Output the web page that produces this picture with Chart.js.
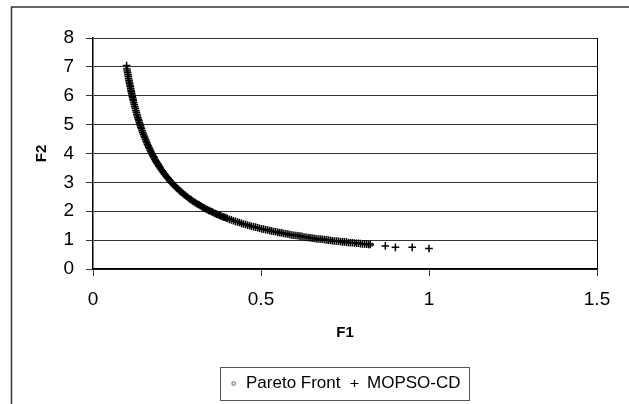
<!DOCTYPE html>
<html>
<head>
<meta charset="utf-8">
<script src="https://cdn.jsdelivr.net/npm/chart.js@4.4.1/dist/chart.umd.min.js"></script>
<style>
  html, body { margin: 0; padding: 0; background: #fff; }
  #wrap { width: 629px; height: 404px; position: relative; }
</style>
</head>
<body>
<div id="wrap"><canvas id="myChart"></canvas></div>
<script>
// values
const paretoF1 = [0.100,0.105,0.110,0.116,0.122,0.129,0.136,0.144,0.153,0.162,0.172,0.183,0.195,0.208,0.222,0.237,0.253,0.270,0.288,0.307,0.327,0.348,0.370,0.393,0.417,0.442,0.468,0.495,0.523,0.552,0.582,0.613,0.645,0.678,0.712,0.747,0.783,0.820,0.830];
const paretoF2 = [7.00,6.67,6.36,6.03,5.74,5.43,5.15,4.86,4.58,4.32,4.07,3.83,3.59,3.37,3.15,2.95,2.77,2.59,2.43,2.28,2.14,2.01,1.89,1.78,1.68,1.58,1.50,1.41,1.34,1.27,1.20,1.14,1.09,1.03,0.98,0.94,0.89,0.85,0.84];

const mopsoF1 = [
  0.100,0.101,0.102,0.103,0.104,0.105,0.106,0.107,0.108,0.109,0.110,0.111,0.112,0.113,0.114,0.115,0.116,0.117,0.118,0.119,0.120,
  0.1215,0.123,0.1245,0.126,0.1275,0.129,0.1305,0.132,0.1335,0.135,0.1365,0.138,0.1395,0.141,0.1425,0.144,0.146,0.148,0.150,
  0.152,0.154,0.156,0.158,0.160,0.162,0.164,0.166,0.168,0.170,0.172,0.174,0.176,0.178,0.180,0.182,0.184,0.186,0.188,0.190,
  0.192,0.194,0.196,0.198,0.200,
  0.203,0.206,0.209,0.212,0.215,0.218,0.221,0.224,0.227,0.230,0.233,0.236,0.239,0.242,0.245,0.248,0.251,0.254,0.257,0.260,
  0.264,0.268,0.272,0.276,0.280,0.284,0.288,0.292,0.296,0.300,0.304,0.308,0.312,0.316,0.320,0.324,0.328,0.332,0.336,0.340,
  0.344,0.348,0.352,0.356,0.360,0.364,0.368,0.372,0.376,0.380,0.384,0.388,0.392,0.396,0.400,
  0.406,0.412,0.418,0.424,0.430,0.436,0.442,0.448,0.454,0.460,0.466,0.472,0.478,0.484,0.490,0.496,0.502,0.508,0.514,0.520,
  0.526,0.532,0.538,0.544,0.550,0.556,0.562,0.568,0.574,0.580,0.586,0.592,0.598,0.604,0.610,0.616,0.622,0.628,0.634,0.640,
  0.646,0.652,0.658,0.664,0.670,0.676,0.682,0.688,0.694,0.700,0.706,0.712,0.718,0.724,0.730,0.736,0.742,0.748,0.754,0.760,
  0.766,0.772,0.778,0.784,0.790,0.796,0.802,0.808,0.814,0.820,0.825,
  0.87,0.90,0.95,1.00
];
const mopsoF2 = [
  7.05,6.93,6.86,6.80,6.73,6.67,6.60,6.54,6.48,6.42,6.36,6.31,6.25,6.19,6.14,6.09,6.03,5.98,5.93,5.88,5.83,
  5.76,5.69,5.62,5.56,5.49,5.43,5.36,5.30,5.24,5.19,5.13,5.07,5.02,4.96,4.91,4.86,4.79,4.73,4.67,
  4.61,4.55,4.49,4.43,4.38,4.32,4.27,4.22,4.17,4.12,4.07,4.02,3.98,3.93,3.89,3.85,3.80,3.76,3.72,3.68,
  3.65,3.61,3.57,3.54,3.50,
  3.45,3.40,3.35,3.30,3.26,3.21,3.17,3.13,3.08,3.04,3.00,2.97,2.93,2.89,2.86,2.82,2.79,2.76,2.72,2.69,
  2.65,2.61,2.57,2.54,2.50,2.46,2.43,2.40,2.36,2.33,2.30,2.27,2.24,2.22,2.19,2.16,2.13,2.11,2.08,2.06,
  2.03,2.01,1.99,1.97,1.94,1.92,1.90,1.88,1.86,1.84,1.82,1.80,1.79,1.77,1.75,
  1.72,1.70,1.67,1.65,1.63,1.61,1.58,1.56,1.54,1.52,1.50,1.48,1.46,1.45,1.43,1.41,1.39,1.38,1.36,1.35,
  1.33,1.32,1.30,1.29,1.27,1.26,1.25,1.23,1.22,1.21,1.19,1.18,1.17,1.16,1.15,1.14,1.13,1.11,1.10,1.09,
  1.08,1.07,1.06,1.05,1.04,1.04,1.03,1.02,1.01,1.00,0.99,0.98,0.97,0.97,0.96,0.95,0.94,0.94,0.93,0.92,
  0.91,0.91,0.90,0.89,0.89,0.88,0.87,0.87,0.86,0.85,0.85,
  0.80,0.75,0.75,0.71
];

const seriesNames = ['Pareto Front', 'MOPSO-CD'];
const xTicks = [0, 0.5, 1, 1.5];
const yTicks = [0, 1, 2, 3, 4, 5, 6, 7, 8];

function toPoints(xs, ys) {
  return xs.map((x, i) => ({ x: x, y: ys[i] }));
}

// tiny open dot for the Pareto entry of the legend
const dot = document.createElement('canvas');
dot.width = 6; dot.height = 6;
const dctx = dot.getContext('2d');
dctx.strokeStyle = '#555';
dctx.lineWidth = 1;
dctx.beginPath();
dctx.arc(3, 3, 1.8, 0, Math.PI * 2);
dctx.stroke();

// outer frame, plot border and legend box
const framePlugin = {
  id: 'frame',
  beforeDraw(chart) {
    const c = chart.ctx;
    c.save();
    c.fillStyle = '#fff';
    c.fillRect(0, 0, chart.width, chart.height);
    c.strokeStyle = '#333';
    c.lineWidth = 1.5;
    c.beginPath();
    c.moveTo(chart.width, 7);
    c.lineTo(11.5, 7);
    c.lineTo(11.5, chart.height);
    c.stroke();
    c.restore();
  },
  afterDraw(chart) {
    const c = chart.ctx;
    const a = chart.chartArea;
    c.save();
    c.strokeStyle = '#000';
    c.lineWidth = 1;
    c.beginPath();
    c.moveTo(a.right + 0.5, a.top);
    c.lineTo(a.right + 0.5, a.bottom);
    c.stroke();
    const boxes = chart.legend.legendHitBoxes;
    if (boxes && boxes.length) {
      let l = Infinity, r = -Infinity, t = Infinity, b = -Infinity;
      boxes.forEach(h => {
        l = Math.min(l, h.left); r = Math.max(r, h.left + h.width);
        t = Math.min(t, h.top); b = Math.max(b, h.top + h.height);
      });
      c.strokeStyle = '#555';
      c.strokeRect(Math.round(l - 10) + 0.5, Math.round(t - 8) + 0.5, Math.round(r - l + 18), Math.round(b - t + 16));
    }
    c.restore();
  }
};

const ctx = document.getElementById('myChart');

const chart = new Chart(ctx, {
  type: 'scatter',
  data: {
    datasets: [{
      label: seriesNames[0],
      data: toPoints(paretoF1, paretoF2),
      pointStyle: 'circle',
      pointRadius: 1.5,
      backgroundColor: '#fff',
      borderColor: '#222',
      borderWidth: 1,
      order: 1
    }, {
      label: seriesNames[1],
      data: toPoints(mopsoF1, mopsoF2),
      pointStyle: 'cross',
      pointRadius: 3.8,
      borderColor: '#000',
      backgroundColor: '#000',
      borderWidth: 1.5,
      order: 0
    }]
  },
  options: {
    responsive: true,
    maintainAspectRatio: false,
    animation: false,
    layout: { padding: { left: 0, top: 38, right: 32, bottom: 2 } },
    scales: {
      x: {
        type: 'linear',
        min: 0,
        max: 1.5,
        afterBuildTicks: (scale) => { scale.ticks = xTicks.map(v => ({ value: v })); },
        afterFit: (scale) => { scale.height = 96; },
        ticks: {
          color: '#000',
          font: { family: 'Arial, "Liberation Sans"', size: 19 },
          padding: 12,
          callback: (v) => String(v)
        },
        grid: { drawOnChartArea: false, color: '#333', tickLength: 7 },
        border: { color: '#000', width: 1.5 },
        title: {
          display: true,
          text: 'F1',
          color: '#000',
          font: { family: 'Arial, "Liberation Sans"', size: 15, weight: 'bold' },
          padding: { top: 4, bottom: 23 }
        }
      },
      y: {
        type: 'linear',
        min: 0,
        max: 8,
        afterBuildTicks: (scale) => { scale.ticks = yTicks.map(v => ({ value: v })); },
        afterFit: (scale) => { scale.width = 93; },
        ticks: {
          color: '#000',
          font: { family: 'Arial, "Liberation Sans"', size: 19 },
          padding: 12,
          callback: (v) => String(v)
        },
        grid: { color: '#333', lineWidth: 1, tickLength: 7 },
        border: { color: '#000', width: 1.5 },
        title: {
          display: true,
          text: 'F2',
          color: '#000',
          font: { family: 'Arial, "Liberation Sans"', size: 15, weight: 'bold' },
          padding: { top: 33, bottom: 0 }
        }
      }
    },
    plugins: {
      legend: {
        position: 'bottom',
        fullSize: false,
        labels: {
          usePointStyle: true,
          boxHeight: 5,
          pointStyleWidth: 8,
          color: '#000',
          padding: 10,
          font: { family: 'Arial, "Liberation Sans"', size: 17 },
          sort: (a, b) => a.datasetIndex - b.datasetIndex,
          generateLabels: (chart) => {
            const items = Chart.defaults.plugins.legend.labels.generateLabels(chart);
            items.forEach(it => {
              if (it.datasetIndex === 0) it.pointStyle = dot;
              it.lineWidth = 1.2;
            });
            return items;
          }
        }
      },
      tooltip: { enabled: false }
    }
  },
  plugins: [framePlugin]
});
</script>
</body>
</html>
